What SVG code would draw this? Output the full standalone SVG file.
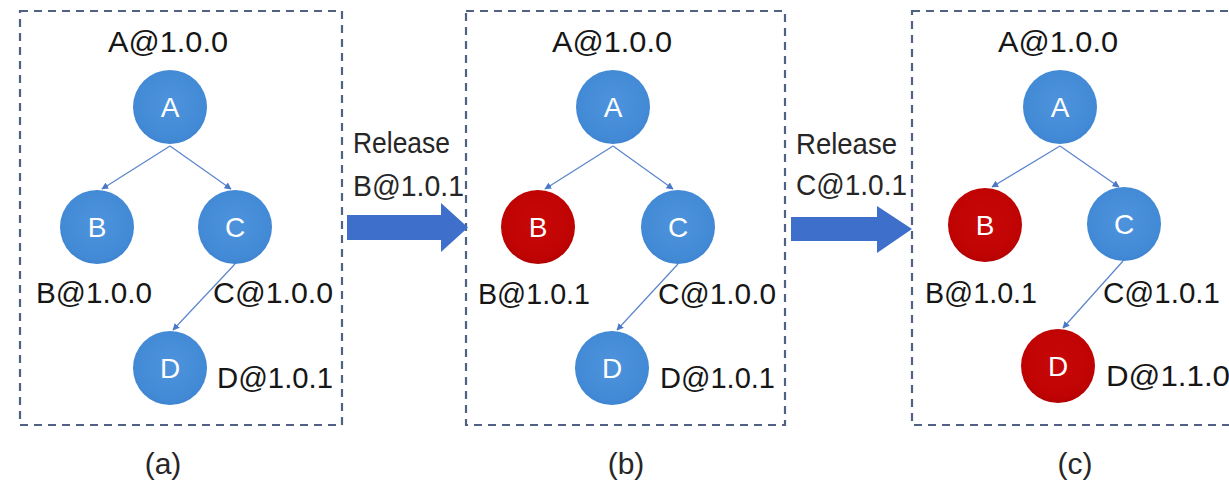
<svg xmlns="http://www.w3.org/2000/svg" width="1229" height="487" viewBox="0 0 1229 487">
  <defs>
    <radialGradient id="blueFill" cx="50%" cy="45%" r="60%">
      <stop offset="0%" stop-color="#4d93dc"/>
      <stop offset="80%" stop-color="#438ad6"/>
      <stop offset="100%" stop-color="#3a80cd"/>
    </radialGradient>
    <radialGradient id="redFill" cx="50%" cy="45%" r="60%">
      <stop offset="0%" stop-color="#c80808"/>
      <stop offset="80%" stop-color="#bf0303"/>
      <stop offset="100%" stop-color="#a80000"/>
    </radialGradient>
    <marker id="tip" viewBox="0 0 10 10" refX="9" refY="5" markerWidth="7" markerHeight="7" markerUnits="userSpaceOnUse" orient="auto">
      <path d="M0,0 L10,5 L0,10 z" fill="#4a78c8"/>
    </marker>
  </defs>
  <style>
    .panel { fill: none; stroke: #4f6284; stroke-width: 2.2; stroke-dasharray: 8 6; }
    .blue { fill: url(#blueFill); }
    .red { fill: url(#redFill); }
    .letter { font-family: "Liberation Sans", Arial, sans-serif; font-size: 28px; fill: #ffffff; text-anchor: middle; }
    .ver { font-family: "Liberation Sans", Arial, sans-serif; font-size: 30px; fill: #161616; }
    .rel { font-family: "Liberation Sans", Arial, sans-serif; font-size: 30px; fill: #262626; }
    .cap { font-family: "Liberation Sans", Arial, sans-serif; font-size: 30px; fill: #262626; text-anchor: middle; }
    .edge { stroke: #5a84cc; stroke-width: 1.2; fill: none; marker-end: url(#tip); }
    .big { fill: #3d6fcb; }
  </style>

  <!-- dashed panel frames -->
  <rect class="panel" x="20" y="11" width="322" height="414"/>
  <rect class="panel" x="466" y="11" width="319" height="414"/>
  <rect class="panel" x="912" y="11" width="330" height="414"/>

  <!-- connectors -->
  <g id="connectors">
    <line class="edge" x1="170" y1="146" x2="102" y2="189"/>
    <line class="edge" x1="170" y1="146" x2="231" y2="189"/>
    <line class="edge" x1="235" y1="264" x2="173" y2="330"/>

    <line class="edge" x1="613" y1="146" x2="545" y2="189"/>
    <line class="edge" x1="613" y1="146" x2="673" y2="189"/>
    <line class="edge" x1="678" y1="264" x2="617" y2="330"/>

    <line class="edge" x1="1060" y1="146" x2="992" y2="187"/>
    <line class="edge" x1="1060" y1="146" x2="1119" y2="187"/>
    <line class="edge" x1="1123" y1="261" x2="1063" y2="328"/>

    <polygon class="big" points="347,215 441,215 441,203 468,227.5 441,252 441,240 347,240"/>
    <polygon class="big" points="791,217 877,217 877,206 912,229 877,253 877,241 791,241"/>
  </g>

  <!-- release labels -->
  <text class="rel" x="353" y="153" textLength="97" lengthAdjust="spacingAndGlyphs">Release</text>
  <text class="rel" x="353" y="196" textLength="111" lengthAdjust="spacingAndGlyphs">B@1.0.1</text>
  <text class="rel" x="796" y="154" textLength="101" lengthAdjust="spacingAndGlyphs">Release</text>
  <text class="rel" x="796" y="195" textLength="111" lengthAdjust="spacingAndGlyphs">C@1.0.1</text>

  <!-- panel (a) -->
  <g id="a-A"><circle class="blue" cx="170" cy="107" r="37"/><text class="letter" x="170" y="117">A</text></g>
  <g id="a-B"><circle class="blue" cx="97" cy="227" r="37"/><text class="letter" x="97" y="237">B</text></g>
  <g id="a-C"><circle class="blue" cx="235" cy="227" r="37"/><text class="letter" x="235" y="237">C</text></g>
  <g id="a-D"><circle class="blue" cx="170" cy="368" r="37"/><text class="letter" x="170" y="378">D</text></g>
  <text class="ver" x="108" y="52" textLength="120" lengthAdjust="spacingAndGlyphs">A@1.0.0</text>
  <text class="ver" x="36" y="303" textLength="116" lengthAdjust="spacingAndGlyphs">B@1.0.0</text>
  <text class="ver" x="213" y="303" textLength="120" lengthAdjust="spacingAndGlyphs">C@1.0.0</text>
  <text class="ver" x="217" y="388" textLength="116" lengthAdjust="spacingAndGlyphs">D@1.0.1</text>
  <text class="cap" x="163" y="474">(a)</text>

  <!-- panel (b) -->
  <g id="b-A"><circle class="blue" cx="613" cy="107" r="37"/><text class="letter" x="613" y="117">A</text></g>
  <g id="b-B"><circle class="red" cx="538" cy="227" r="37"/><text class="letter" x="538" y="237">B</text></g>
  <g id="b-C"><circle class="blue" cx="678" cy="227" r="37"/><text class="letter" x="678" y="237">C</text></g>
  <g id="b-D"><circle class="blue" cx="612" cy="368" r="37"/><text class="letter" x="612" y="378">D</text></g>
  <text class="ver" x="552" y="52" textLength="120" lengthAdjust="spacingAndGlyphs">A@1.0.0</text>
  <text class="ver" x="478" y="304" textLength="112" lengthAdjust="spacingAndGlyphs">B@1.0.1</text>
  <text class="ver" x="658" y="304" textLength="118" lengthAdjust="spacingAndGlyphs">C@1.0.0</text>
  <text class="ver" x="660" y="388" textLength="115" lengthAdjust="spacingAndGlyphs">D@1.0.1</text>
  <text class="cap" x="626" y="474">(b)</text>

  <!-- panel (c) -->
  <g id="c-A"><circle class="blue" cx="1060" cy="107" r="37"/><text class="letter" x="1060" y="117">A</text></g>
  <g id="c-B"><circle class="red" cx="985" cy="225" r="37"/><text class="letter" x="985" y="235">B</text></g>
  <g id="c-C"><circle class="blue" cx="1124" cy="224" r="37"/><text class="letter" x="1124" y="234">C</text></g>
  <g id="c-D"><circle class="red" cx="1058" cy="366" r="37"/><text class="letter" x="1058" y="376">D</text></g>
  <text class="ver" x="998" y="52" textLength="120" lengthAdjust="spacingAndGlyphs">A@1.0.0</text>
  <text class="ver" x="925" y="303" textLength="112" lengthAdjust="spacingAndGlyphs">B@1.0.1</text>
  <text class="ver" x="1103" y="303" textLength="117" lengthAdjust="spacingAndGlyphs">C@1.0.1</text>
  <text class="ver" x="1106" y="386" textLength="124" lengthAdjust="spacingAndGlyphs">D@1.1.0</text>
  <text class="cap" x="1075" y="474">(c)</text>
</svg>
